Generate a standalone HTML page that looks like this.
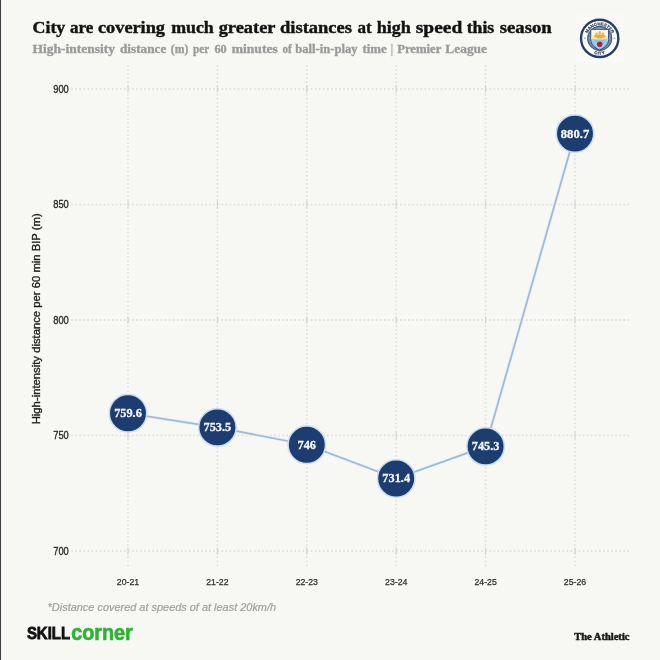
<!DOCTYPE html>
<html>
<head>
<meta charset="utf-8">
<style>
html,body{margin:0;padding:0;width:660px;height:660px;overflow:hidden;background:#f7f7f4;}
svg{display:block;position:absolute;left:0;top:0;will-change:transform;}
text{font-family:"Liberation Sans",sans-serif;}
.serif,.serif text{font-family:"Liberation Serif",serif;font-weight:bold;}
</style>
</head>
<body>
<svg width="660" height="660" viewBox="0 0 660 660">
  <rect x="0" y="0" width="660" height="660" fill="#f7f7f4"/>
  <!-- left strip -->
  <rect x="0" y="0" width="1.25" height="660" fill="#404040"/>
  <rect x="1.25" y="0" width="1.0" height="660" fill="#fefefe"/>

  <!-- title -->
  <text class="serif" id="t0" x="32.50" y="33.1" font-size="16.7" fill="#121212" stroke="#121212" stroke-width="0.4" textLength="32.80" lengthAdjust="spacingAndGlyphs">City</text>
  <text class="serif" id="t1" x="70.00" y="33.1" font-size="16.7" fill="#121212" stroke="#121212" stroke-width="0.4" textLength="23.30" lengthAdjust="spacingAndGlyphs">are</text>
  <text class="serif" id="t2" x="98.00" y="33.1" font-size="16.7" fill="#121212" stroke="#121212" stroke-width="0.4" textLength="67.00" lengthAdjust="spacingAndGlyphs">covering</text>
  <text class="serif" id="t3" x="171.20" y="33.1" font-size="16.7" fill="#121212" stroke="#121212" stroke-width="0.4" textLength="42.60" lengthAdjust="spacingAndGlyphs">much</text>
  <text class="serif" id="t4" x="218.70" y="33.1" font-size="16.7" fill="#121212" stroke="#121212" stroke-width="0.4" textLength="56.80" lengthAdjust="spacingAndGlyphs">greater</text>
  <text class="serif" id="t5" x="280.00" y="33.1" font-size="16.7" fill="#121212" stroke="#121212" stroke-width="0.4" textLength="72.00" lengthAdjust="spacingAndGlyphs">distances</text>
  <text class="serif" id="t6" x="357.50" y="33.1" font-size="16.7" fill="#121212" stroke="#121212" stroke-width="0.4" textLength="14.20" lengthAdjust="spacingAndGlyphs">at</text>
  <text class="serif" id="t7" x="376.70" y="33.1" font-size="16.7" fill="#121212" stroke="#121212" stroke-width="0.4" textLength="34.10" lengthAdjust="spacingAndGlyphs">high</text>
  <text class="serif" id="t8" x="415.80" y="33.1" font-size="16.7" fill="#121212" stroke="#121212" stroke-width="0.4" textLength="46.40" lengthAdjust="spacingAndGlyphs">speed</text>
  <text class="serif" id="t9" x="466.70" y="33.1" font-size="16.7" fill="#121212" stroke="#121212" stroke-width="0.4" textLength="27.50" lengthAdjust="spacingAndGlyphs">this</text>
  <text class="serif" id="t10" x="499.70" y="33.1" font-size="16.7" fill="#121212" stroke="#121212" stroke-width="0.4" textLength="52.00" lengthAdjust="spacingAndGlyphs">season</text>
  <text class="serif" id="s0" x="32.50" y="53.4" font-size="13" fill="#9a9a9a" stroke="#9a9a9a" stroke-width="0.35" textLength="82.50" lengthAdjust="spacingAndGlyphs">High-intensity</text>
  <text class="serif" id="s1" x="120.00" y="53.4" font-size="13" fill="#9a9a9a" stroke="#9a9a9a" stroke-width="0.35" textLength="46.30" lengthAdjust="spacingAndGlyphs">distance</text>
  <text class="serif" id="s2" x="170.80" y="53.4" font-size="13" fill="#9a9a9a" stroke="#9a9a9a" stroke-width="0.35" textLength="17.50" lengthAdjust="spacingAndGlyphs">(m)</text>
  <text class="serif" id="s3" x="193.00" y="53.4" font-size="13" fill="#9a9a9a" stroke="#9a9a9a" stroke-width="0.35" textLength="16.20" lengthAdjust="spacingAndGlyphs">per</text>
  <text class="serif" id="s4" x="214.50" y="53.4" font-size="13" fill="#9a9a9a" stroke="#9a9a9a" stroke-width="0.35" textLength="12.20" lengthAdjust="spacingAndGlyphs">60</text>
  <text class="serif" id="s5" x="231.70" y="53.4" font-size="13" fill="#9a9a9a" stroke="#9a9a9a" stroke-width="0.35" textLength="46.10" lengthAdjust="spacingAndGlyphs">minutes</text>
  <text class="serif" id="s6" x="282.50" y="53.4" font-size="13" fill="#9a9a9a" stroke="#9a9a9a" stroke-width="0.35" textLength="9.20" lengthAdjust="spacingAndGlyphs">of</text>
  <text class="serif" id="s7" x="295.30" y="53.4" font-size="13" fill="#9a9a9a" stroke="#9a9a9a" stroke-width="0.35" textLength="62.20" lengthAdjust="spacingAndGlyphs">ball-in-play</text>
  <text class="serif" id="s8" x="362.50" y="53.4" font-size="13" fill="#9a9a9a" stroke="#9a9a9a" stroke-width="0.35" textLength="24.20" lengthAdjust="spacingAndGlyphs">time</text>
  <text class="serif" id="s9" x="391.00" y="53.4" font-size="13" fill="#9a9a9a" stroke="#9a9a9a" stroke-width="0.35" textLength="1.80" lengthAdjust="spacingAndGlyphs">|</text>
  <text class="serif" id="s10" x="397.20" y="53.4" font-size="13" fill="#9a9a9a" stroke="#9a9a9a" stroke-width="0.35" textLength="44.10" lengthAdjust="spacingAndGlyphs">Premier</text>
  <text class="serif" id="s11" x="445.30" y="53.4" font-size="13" fill="#9a9a9a" stroke="#9a9a9a" stroke-width="0.35" textLength="41.70" lengthAdjust="spacingAndGlyphs">League</text>


  <!-- man city logo -->
  <g transform="translate(599.7,38.4) scale(0.1)">
    <rect x="-238" y="-236" width="476" height="480" fill="#ffffff" opacity="0.25"/>
    <circle r="212" fill="#ffffff" opacity="0.7"/>
    <circle r="186.5" fill="#fdfefe" stroke="#283c68" stroke-width="24"/>
    <circle r="113" fill="#92b4d6" stroke="#6a819f" stroke-width="20"/>
    <circle r="122" fill="none" stroke="#2c3f68" stroke-width="7"/>
    <!-- ring text -->
    <path id="arcTop" d="M -131 0 A 131 131 0 0 1 131 0" fill="none"/>
    <text font-size="42" font-weight="bold" fill="#1f2f57" stroke="#1f2f57" stroke-width="1.5"><textPath href="#arcTop" startOffset="50%" text-anchor="middle" textLength="310" lengthAdjust="spacingAndGlyphs">MANCHESTER</textPath></text>
    <path id="arcBot" d="M -163 0 A 163 163 0 0 0 163 0" fill="none"/>
    <text font-size="42" font-weight="bold" fill="#1f2f57" stroke="#1f2f57" stroke-width="2" letter-spacing="4.5"><textPath href="#arcBot" startOffset="50%" text-anchor="middle">CITY</textPath></text>
    <rect x="-156" y="-9" width="16" height="16" fill="#8a97b0" opacity="0.7"/>
    <rect x="140" y="-9" width="16" height="16" fill="#8a97b0" opacity="0.7"/>
    <!-- shield -->
    <path d="M -89 -90 H 89 V 12 C 89 66 42 98 0 116 C -42 98 -89 66 -89 12 Z" fill="#8ec3ea" stroke="#2c3f68" stroke-width="9"/>
    <path d="M -83 -85 H 83 V 8 H -83 Z" fill="#fdf6e0"/>
    <path d="M -83 -25 H 83 V 8 H -83 Z" fill="#f3e3a8" opacity="0.8"/>
    <!-- ship -->
    <path d="M -58 -16 Q 0 18 58 -16 L 50 -34 H -50 Z" fill="#f0a93a"/>
    <path d="M -44 -32 V -56 H -20 V -32 Z M -11 -32 V -72 H 11 V -32 Z M 20 -32 V -56 H 44 V -32 Z" fill="#f3b54c"/>
    <!-- stripes + rose -->
    <path d="M -80 16 L -10 95 M 80 16 L 10 95" stroke="#ffffff" stroke-width="9" opacity="0.45" fill="none"/>
    <circle cx="0" cy="58" r="28" fill="#b52845"/>
    <circle cx="0" cy="58" r="11" fill="#8a1f3f"/>
  </g>

  <!-- grid -->
  <g stroke="#dfdfdb" stroke-width="1.8" stroke-dasharray="0.1 3.96" stroke-linecap="round" fill="none">
    <line x1="72" y1="89" x2="630" y2="89"/>
    <line x1="72" y1="204.5" x2="630" y2="204.5"/>
    <line x1="72" y1="320" x2="630" y2="320"/>
    <line x1="72" y1="435.5" x2="630" y2="435.5"/>
    <line x1="72" y1="551" x2="630" y2="551"/>
    <line x1="128" y1="66" x2="128" y2="568"/>
    <line x1="217.4" y1="66" x2="217.4" y2="568"/>
    <line x1="306.8" y1="66" x2="306.8" y2="568"/>
    <line x1="396.2" y1="66" x2="396.2" y2="568"/>
    <line x1="485.6" y1="66" x2="485.6" y2="568"/>
    <line x1="575" y1="66" x2="575" y2="568"/>
  </g>

  <g stroke="#d3d3cf" stroke-width="1" fill="none">
    <line x1="128" y1="85.3" x2="128" y2="92.7"/>
    <line x1="128" y1="200.8" x2="128" y2="208.2"/>
    <line x1="128" y1="316.3" x2="128" y2="323.7"/>
    <line x1="128" y1="431.8" x2="128" y2="439.2"/>
    <line x1="128" y1="547.3" x2="128" y2="554.7"/>
    <line x1="217.4" y1="85.3" x2="217.4" y2="92.7"/>
    <line x1="217.4" y1="200.8" x2="217.4" y2="208.2"/>
    <line x1="217.4" y1="316.3" x2="217.4" y2="323.7"/>
    <line x1="217.4" y1="431.8" x2="217.4" y2="439.2"/>
    <line x1="217.4" y1="547.3" x2="217.4" y2="554.7"/>
    <line x1="306.8" y1="85.3" x2="306.8" y2="92.7"/>
    <line x1="306.8" y1="200.8" x2="306.8" y2="208.2"/>
    <line x1="306.8" y1="316.3" x2="306.8" y2="323.7"/>
    <line x1="306.8" y1="431.8" x2="306.8" y2="439.2"/>
    <line x1="306.8" y1="547.3" x2="306.8" y2="554.7"/>
    <line x1="396.2" y1="85.3" x2="396.2" y2="92.7"/>
    <line x1="396.2" y1="200.8" x2="396.2" y2="208.2"/>
    <line x1="396.2" y1="316.3" x2="396.2" y2="323.7"/>
    <line x1="396.2" y1="431.8" x2="396.2" y2="439.2"/>
    <line x1="396.2" y1="547.3" x2="396.2" y2="554.7"/>
    <line x1="485.6" y1="85.3" x2="485.6" y2="92.7"/>
    <line x1="485.6" y1="200.8" x2="485.6" y2="208.2"/>
    <line x1="485.6" y1="316.3" x2="485.6" y2="323.7"/>
    <line x1="485.6" y1="431.8" x2="485.6" y2="439.2"/>
    <line x1="485.6" y1="547.3" x2="485.6" y2="554.7"/>
    <line x1="575" y1="85.3" x2="575" y2="92.7"/>
    <line x1="575" y1="200.8" x2="575" y2="208.2"/>
    <line x1="575" y1="316.3" x2="575" y2="323.7"/>
    <line x1="575" y1="431.8" x2="575" y2="439.2"/>
    <line x1="575" y1="547.3" x2="575" y2="554.7"/>
  </g>

  <!-- y tick labels -->
  <g font-size="10.2" fill="#262626" stroke="#262626" stroke-width="0.3" text-anchor="end">
    <text x="68.8" y="92.8" textLength="15.6" lengthAdjust="spacingAndGlyphs">900</text>
    <text x="68.8" y="208.3" textLength="15.6" lengthAdjust="spacingAndGlyphs">850</text>
    <text x="68.8" y="323.8" textLength="15.6" lengthAdjust="spacingAndGlyphs">800</text>
    <text x="68.8" y="439.3" textLength="15.6" lengthAdjust="spacingAndGlyphs">750</text>
    <text x="68.8" y="554.8" textLength="15.6" lengthAdjust="spacingAndGlyphs">700</text>
  </g>

  <!-- y axis label -->
  <text transform="translate(39.9,424.3) rotate(-90)" font-size="10.8" fill="#1e1e1e" stroke="#1e1e1e" stroke-width="0.35" textLength="211" lengthAdjust="spacingAndGlyphs">High-intensity distance per 60 min BIP (m)</text>

  <!-- x tick labels -->
  <g font-size="9.8" fill="#2b2b2b" stroke="#2b2b2b" stroke-width="0.25" text-anchor="middle">
    <text x="128" y="585" textLength="22.3" lengthAdjust="spacingAndGlyphs">20-21</text>
    <text x="217.4" y="585" textLength="22.3" lengthAdjust="spacingAndGlyphs">21-22</text>
    <text x="306.8" y="585" textLength="22.3" lengthAdjust="spacingAndGlyphs">22-23</text>
    <text x="396.2" y="585" textLength="22.3" lengthAdjust="spacingAndGlyphs">23-24</text>
    <text x="485.6" y="585" textLength="22.3" lengthAdjust="spacingAndGlyphs">24-25</text>
    <text x="575" y="585" textLength="22.3" lengthAdjust="spacingAndGlyphs">25-26</text>
  </g>

  <!-- line -->
  <polyline points="128,413.3 217.4,427.4 306.8,444.7 396.2,478.5 485.6,446.4 575,133.6" fill="none" stroke="#e4eef8" stroke-width="3.2" stroke-linejoin="round"/>
  <polyline points="128,413.3 217.4,427.4 306.8,444.7 396.2,478.5 485.6,446.4 575,133.6" fill="none" stroke="#a0b8d0" stroke-width="1.65" stroke-linejoin="round"/>

  <!-- points -->
  <g fill="#1d3c6f" stroke="#c6ddf3" stroke-width="1.5">
    <circle cx="128" cy="413.3" r="18.7"/>
    <circle cx="217.4" cy="427.4" r="18.7"/>
    <circle cx="306.8" cy="444.7" r="18.7"/>
    <circle cx="396.2" cy="478.5" r="18.7"/>
    <circle cx="485.6" cy="446.4" r="18.7"/>
    <circle cx="575" cy="133.6" r="18.7"/>
  </g>
  <g class="serif" font-size="12.3" fill="#f4f7fb" stroke="#f4f7fb" stroke-width="0.3" text-anchor="middle">
    <text x="128" y="417.2">759.6</text>
    <text x="217.4" y="431.3">753.5</text>
    <text x="306.8" y="448.6">746</text>
    <text x="396.2" y="482.4">731.4</text>
    <text x="485.6" y="450.3">745.3</text>
  </g>
  <text class="serif" x="575" y="137.8" font-size="12.6" fill="#f4f7fb" stroke="#f4f7fb" stroke-width="0.3" text-anchor="middle" textLength="28.4" lengthAdjust="spacingAndGlyphs">880.7</text>

  <!-- footnote -->
  <text x="47.6" y="610.5" font-size="10.5" font-style="italic" fill="#a0a0a0" stroke="#a0a0a0" stroke-width="0.2" textLength="228.5" lengthAdjust="spacingAndGlyphs">*Distance covered at speeds of at least 20km/h</text>

  <!-- skillcorner -->
  <text x="26.9" y="639.2" font-size="17" font-weight="bold" fill="#111" stroke="#111" stroke-width="0.8" textLength="43.2" lengthAdjust="spacingAndGlyphs">SKILL</text>
  <text x="71.2" y="639.5" font-size="21.5" font-weight="bold" fill="#2bb42f" stroke="#2bb42f" stroke-width="0.6" textLength="61.5" lengthAdjust="spacingAndGlyphs">corner</text>

  <!-- the athletic -->
  <text class="serif" x="574.2" y="639.8" font-size="11.2" fill="#1a1a1a" stroke="#1a1a1a" stroke-width="0.55" textLength="55.3" lengthAdjust="spacingAndGlyphs">The Athletic</text>
</svg>
</body>
</html>
